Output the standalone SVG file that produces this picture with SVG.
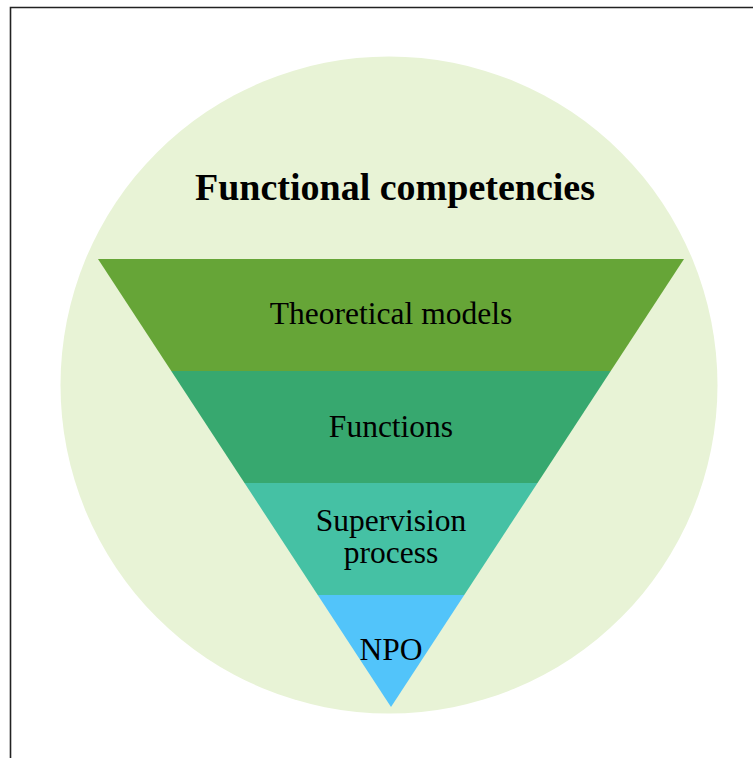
<svg xmlns="http://www.w3.org/2000/svg" width="753" height="758" viewBox="0 0 753 758">
<style>
.lbl{font-family:"Liberation Serif","Times New Roman",serif;font-size:31.5px;fill:#000;text-anchor:middle}
.title{font-family:"Liberation Serif","Times New Roman",serif;font-size:38px;font-weight:bold;fill:#000;text-anchor:middle}
</style>
<rect x="0" y="0" width="753" height="758" fill="#fff"/>
<path d="M10.5,758 V7.5 H753" fill="none" stroke="#222" stroke-width="1.6"/>
<g id="circle">
<circle cx="389" cy="385" r="328.5" fill="#e8f3d6"/>
<text class="title" x="395" y="200">Functional competencies</text>
</g>
<g id="theoretical-models">
<polygon points="98,259 684,259 610.75,371 171.25,371" fill="#66a537"/>
<text class="lbl" x="391" y="324">Theoretical models</text>
</g>
<g id="functions">
<polygon points="171.25,371 610.75,371 537.5,483 244.5,483" fill="#37a86f"/>
<text class="lbl" x="391" y="437">Functions</text>
</g>
<g id="supervision-process">
<polygon points="244.5,483 537.5,483 464.25,595 317.75,595" fill="#45c1a4"/>
<text class="lbl" x="391" y="531">Supervision</text>
<text class="lbl" x="391" y="563">process</text>
</g>
<g id="npo">
<polygon points="317.75,595 464.25,595 391,707" fill="#52c4fa"/>
<text class="lbl" x="391" y="660">NPO</text>
</g>
<g id="connectors"/>
</svg>
